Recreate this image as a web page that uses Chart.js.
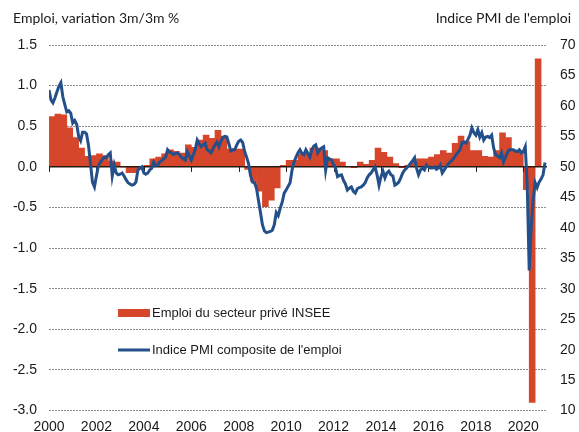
<!DOCTYPE html>
<html>
<head>
<meta charset="utf-8">
<script src="https://cdn.jsdelivr.net/npm/chart.js@4"></script>
<style>
  body { margin: 0; background: #fff; }
  #wrap { width: 579px; height: 432px; }
</style>
</head>
<body>
<div id="wrap"><canvas id="myChart" width="579" height="432"></canvas></div>
<script>
// emploi salarié privé INSEE, variation t/t-1 en %, 2000T1 -> 2020T4
let emploi = [
    0.62, 0.65, 0.64, 0.48,   // 2000
    0.36, 0.23, 0.13, 0.14,   // 2001
    0.16, 0.14, 0.07, 0.06,   // 2002
    0.00, -0.07, -0.07, -0.03,// 2003
    0.02, 0.10, 0.12, 0.16,   // 2004
    0.21, 0.19, 0.17, 0.27,   // 2005
    0.24, 0.33, 0.39, 0.35,   // 2006
    0.45, 0.38, 0.22, 0.22,   // 2007
    0.22, -0.03, -0.18, -0.30,// 2008
    -0.49, -0.41, -0.26, 0.02,// 2009
    0.08, 0.08, 0.16, 0.16,   // 2010
    0.23, 0.23, 0.20, 0.10,   // 2011
    0.10, 0.06, 0.00, -0.01,  // 2012
    0.06, 0.03, 0.08, 0.23,   // 2013
    0.18, 0.12, 0.04, -0.01,  // 2014
    0.02, 0.06, 0.10, 0.10,   // 2015
    0.12, 0.15, 0.20, 0.17,   // 2016
    0.29, 0.38, 0.31, 0.20,   // 2017
    0.20, 0.13, 0.12, 0.20,   // 2018
    0.42, 0.36, 0.20, 0.20,   // 2019
    -0.28, -2.90, 1.33, null  // 2020
];

// PMI composite emploi, mensuel, janv. 2000 -> déc. 2020
let pmi = [
    62.6, 61.0, 60.5, 61.3, 62.3, 63.2, 63.8, 61.5, 60.2, 59.0, 59.2, 58.8, // 2000
    57.2, 57.6, 57.0, 55.0, 54.3, 55.7, 55.7, 55.4, 53.5, 50.5, 47.5, 46.7, // 2001
    48.5, 50.2, 50.8, 51.2, 51.6, 51.5, 52.0, 52.3, 48.5, 50.3, 49.0, 48.7, // 2002
    48.8, 49.0, 48.5, 47.9, 47.4, 47.2, 47.0, 47.1, 47.5, 49.5, 49.8, 50.0, // 2003
    49.0, 48.8, 49.0, 49.5, 49.8, 50.8, 50.2, 50.3, 50.8, 51.0, 51.3, 51.6, // 2004
    52.8, 52.4, 52.3, 52.0, 52.2, 52.3, 52.0, 51.6, 51.3, 51.1, 52.5, 51.8, // 2005
    51.1, 52.0, 52.8, 54.4, 53.8, 53.3, 53.6, 53.9, 52.8, 52.6, 52.3, 53.0, // 2006
    53.6, 54.1, 53.3, 54.2, 54.8, 55.0, 54.9, 53.8, 52.6, 52.8, 52.8, 53.6, // 2007
    54.2, 54.4, 54.0, 52.5, 51.6, 50.5, 48.5, 47.5, 47.4, 46.5, 44.5, 42.5, // 2008
    40.5, 39.5, 39.2, 39.3, 39.4, 39.6, 40.5, 42.5, 42.0, 43.2, 44.2, 45.7, // 2009
    46.2, 46.8, 47.4, 49.5, 50.8, 51.6, 52.3, 52.8, 52.2, 52.0, 52.8, 52.2, // 2010
    51.6, 52.8, 53.4, 53.6, 52.3, 52.8, 53.1, 53.3, 49.5, 51.5, 51.3, 51.1, // 2011
    50.4, 49.8, 48.4, 48.6, 48.7, 47.8, 47.2, 46.2, 46.5, 46.7, 46.0, 45.7, // 2012
    46.4, 46.6, 46.7, 47.0, 47.4, 48.2, 48.7, 49.0, 49.5, 50.0, 48.7, 47.0, // 2013
    48.4, 49.3, 48.2, 49.0, 49.3, 48.7, 48.5, 47.0, 47.2, 47.5, 48.2, 49.0, // 2014
    49.5, 49.8, 50.2, 50.6, 51.0, 51.5, 49.8, 48.7, 49.5, 49.8, 49.5, 50.3, // 2015
    50.0, 49.8, 49.8, 50.0, 49.6, 49.8, 50.3, 49.0, 49.5, 50.0, 50.5, 50.8, // 2016
    51.1, 51.5, 52.0, 52.4, 52.8, 54.0, 54.1, 53.9, 54.5, 55.2, 56.4, 55.6, // 2017
    55.2, 56.1, 54.9, 55.6, 54.4, 54.9, 55.0, 54.8, 55.2, 53.1, 52.0, 51.8, // 2018
    51.5, 52.3, 50.8, 51.6, 52.4, 52.8, 52.8, 52.8, 52.6, 52.5, 52.8, 52.3, // 2019
    52.5, 53.3, 47.0, 33.0, 40.2, 44.6, 47.4, 46.6, 47.5, 48.0, 48.7, 50.7  // 2020
];

let yearTicks = [2000, 2002, 2004, 2006, 2008, 2010, 2012, 2014, 2016, 2018, 2020];
let firstYear = 2000;
let lastYear = 2021;
let leftTicks = { min: -3, max: 1.5, step: 0.5 };
let rightTicks = { min: 10, max: 70, step: 5 };
let leftTitle = "Emploi, variation 3m/3m %";
let rightTitle = "Indice PMI de l'emploi";

let barColor = "#D5462B";
let lineColor = "#23508A";
let textColor = "#1a1a1a";

let emploiPts = emploi.map((v, i) => ({ x: firstYear + i / 4 + 0.125, y: v }));
let pmiPts = pmi.map((v, i) => ({ x: firstYear + i / 12, y: v }));

// zero line with small tick marks, headers and legend
let decor = {
    id: "decor",
    beforeDatasetDraw(chart, args) {
        if (args.meta.type !== "line") return;
        let ctx = chart.ctx;
        let area = chart.chartArea;
        let y0 = chart.scales.y.getPixelForValue(0);
        ctx.save();
        ctx.strokeStyle = "#2a1a14";
        ctx.lineWidth = 1.5;
        ctx.beginPath();
        ctx.moveTo(area.left, y0);
        ctx.lineTo(area.right, y0);
        ctx.stroke();
        ctx.lineWidth = 1;
        chart.scales.x.ticks.forEach(t => {
            let x = Math.round(chart.scales.x.getPixelForValue(t.value)) + 0.5;
            ctx.beginPath();
            ctx.moveTo(x, y0);
            ctx.lineTo(x, y0 + 5);
            ctx.stroke();
        });
        ctx.restore();
    },
    afterDraw(chart) {
        let ctx = chart.ctx;
        ctx.save();
        ctx.fillStyle = textColor;
        ctx.font = "14px Lato, 'Open Sans', sans-serif";
        ctx.textBaseline = "middle";
        ctx.textAlign = "left";
        ctx.fillText(leftTitle, 13, 18);
        ctx.textAlign = "right";
        ctx.fillText(rightTitle, 571, 18);

        // legend
        let ds = chart.data.datasets;
        ctx.font = "13px 'Liberation Sans', Arial, sans-serif";
        ctx.textAlign = "left";
        ctx.fillStyle = ds[0].backgroundColor;
        ctx.fillRect(118, 309, 32, 8);
        ctx.strokeStyle = ds[1].borderColor;
        ctx.lineWidth = 3;
        ctx.beginPath();
        ctx.moveTo(118, 350);
        ctx.lineTo(150, 350);
        ctx.stroke();
        ctx.fillStyle = textColor;
        ctx.fillText(ds[0].label, 152, 313);
        ctx.fillText(ds[1].label, 152, 350);
        ctx.restore();
    }
};

let tickFont = { family: "'Liberation Sans', Arial, sans-serif", size: 14 };

let myChart = document.getElementById("myChart").getContext("2d");
let emploiChart = new Chart(myChart, {
    type: "bar",
    data: {
        datasets: [{
            type: "bar",
            label: "Emploi du secteur privé INSEE",
            data: emploiPts,
            yAxisID: "y",
            backgroundColor: barColor,
            borderWidth: 0,
            barPercentage: 1,
            categoryPercentage: 1,
            order: 2
        }, {
            type: "line",
            label: "Indice PMI composite de l'emploi",
            data: pmiPts,
            yAxisID: "y1",
            borderColor: lineColor,
            borderWidth: 3,
            pointRadius: 0,
            tension: 0,
            fill: false,
            order: 1
        }]
    },
    options: {
        responsive: false,
        animation: false,
        events: [],
        layout: { padding: { top: 45, left: 0, right: 0, bottom: 0 } },
        plugins: {
            legend: { display: false },
            title: { display: false },
            tooltip: { enabled: false }
        },
        scales: {
            x: {
                type: "linear",
                offset: false,
                min: firstYear,
                max: lastYear,
                grid: { display: false, drawTicks: false },
                border: { display: false },
                afterBuildTicks: function(scale) {
                    scale.ticks = yearTicks.map(v => ({ value: v }));
                },
                ticks: {
                    autoSkip: false,
                    maxRotation: 0,
                    padding: 8,
                    color: textColor,
                    font: tickFont,
                    callback: function(value) { return String(value); }
                },
                afterFit: function(scale) { scale.height = 21; }
            },
            y: {
                position: "left",
                min: leftTicks.min,
                max: leftTicks.max,
                grid: {
                    color: function(c) { return c.tick && c.tick.value === 0 ? "rgba(0,0,0,0)" : "#8c8c8c"; },
                    lineWidth: 1,
                    drawTicks: false
                },
                border: { display: false, dash: [2, 1] },
                ticks: {
                    stepSize: leftTicks.step,
                    padding: 12,
                    color: textColor,
                    font: tickFont,
                    callback: function(value) { return value.toFixed(1); }
                },
                afterFit: function(scale) { scale.width = 49; }
            },
            y1: {
                position: "right",
                min: rightTicks.min,
                max: rightTicks.max,
                grid: { display: false, drawTicks: false },
                border: { display: false },
                ticks: {
                    stepSize: rightTicks.step,
                    padding: 13,
                    color: textColor,
                    font: tickFont
                },
                afterFit: function(scale) { scale.width = 32; }
            }
        }
    },
    plugins: [decor]
});
</script>
</body>
</html>
